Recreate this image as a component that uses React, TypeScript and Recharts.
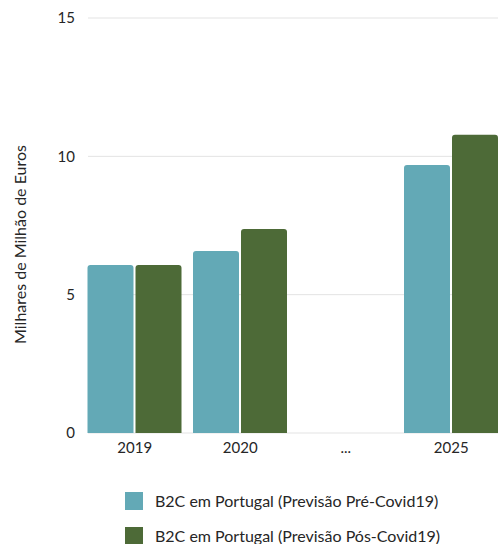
import React from 'react';
import { BarChart, Bar, XAxis, YAxis, CartesianGrid, Label } from 'recharts';

const categories = ['2019', '2020', '...', '2025'];
const preCovid = [6.07, 6.58, 0, 9.69];
const posCovid = [6.07, 7.37, 0, 10.78];
const yTicks = [0, 5, 10, 15];

const SERIES = [
  { key: 'pre', name: 'B2C em Portugal (Previsão Pré-Covid19)', color: '#63a9b6' },
  { key: 'pos', name: 'B2C em Portugal (Previsão Pós-Covid19)', color: '#4d6a37' },
];

const data = categories.map((c, i) => ({ name: c, pre: preCovid[i], pos: posCovid[i] }));

const FONT = 'Lato, "Open Sans", sans-serif';

export default function App() {
  return (
    <div
      style={{
        position: 'absolute',
        left: 0,
        top: 0,
        width: 498,
        height: 544,
        overflow: 'hidden',
        background: '#fff',
        fontFamily: FONT,
      }}>
      <BarChart
        width={504}
        height={465}
        data={data}
        margin={{ top: 18, right: 0, left: 0, bottom: 2 }}
        barCategoryGap={5.5}
        barGap={2}>
        {/* grid starts a bit right of the first bar, like the source */}
        <CartesianGrid vertical={false} stroke='#e3e3e3' x={88} width={416} />
        <XAxis
          dataKey='name'
          axisLine={false}
          tickLine={false}
          tickSize={0}
          tickMargin={9}
          height={30}
          tick={{ fill: '#262626', fontSize: 15, fontFamily: FONT }}
        />
        <YAxis
          width={82}
          domain={[0, 15]}
          ticks={yTicks}
          axisLine={false}
          tickLine={false}
          tickSize={0}
          tickMargin={7}
          tick={{ fill: '#262626', fontSize: 15, fontFamily: FONT }}>
          <Label
            content={({ viewBox }: any) => {
              const x = viewBox.x + 19;
              const y = viewBox.y + viewBox.height / 2 + 19;
              return (
                <text
                  x={x}
                  y={y}
                  transform={`rotate(-90 ${x} ${y})`}
                  textAnchor='middle'
                  dominantBaseline='central'
                  fill='#262626'
                  fontSize={16}
                  fontFamily={FONT}>
                  Milhares de Milhão de Euros
                </text>
              );
            }}
          />
        </YAxis>
        {SERIES.map((s) => (
          <Bar key={s.key} dataKey={s.key} name={s.name} fill={s.color} radius={[3, 3, 0, 0]} isAnimationActive={false} />
        ))}
      </BarChart>
      {/* legend below the plot */}
      <div style={{ position: 'absolute', left: 125, top: 483 }}>
        {SERIES.map((s) => (
          <div key={s.key} style={{ display: 'flex', alignItems: 'center', height: 35 }}>
            <div style={{ width: 18, height: 18, background: s.color, marginRight: 12 }} />
            <span style={{ fontSize: 16, color: '#262626' }}>{s.name}</span>
          </div>
        ))}
      </div>
    </div>
  );
}
